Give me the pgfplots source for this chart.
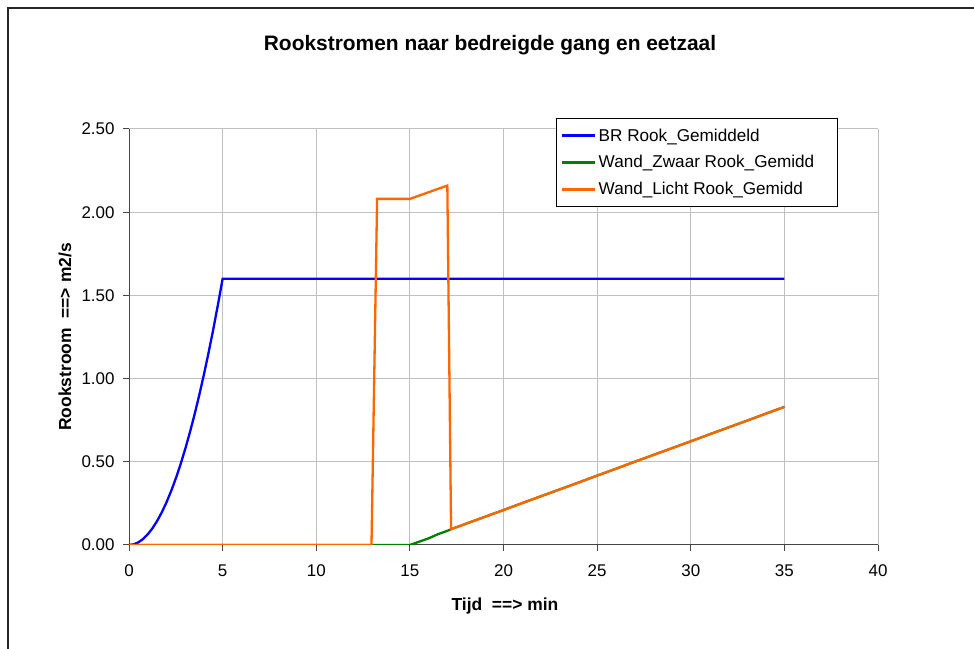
\documentclass[border=0pt]{standalone}
\usepackage{fontspec}
\setmainfont{Liberation Sans}
\usepackage{pgfplots}
\pgfplotsset{compat=1.18}
\definecolor{xlblue}{RGB}{0,0,255}
\definecolor{xlgreen}{RGB}{0,128,0}
\definecolor{xlorange}{RGB}{255,102,0}
\definecolor{gridgray}{RGB}{192,192,192}
\definecolor{axgray}{RGB}{70,70,70}
\begin{document}
\begin{tikzpicture}[x=1bp,y=1bp]
\useasboundingbox (0,0) rectangle (974,649);
\draw[line width=1.6bp, black!85] (8,-10) -- (8,641) -- (990,641);
\begin{axis}[
  at={(129bp,104bp)}, anchor=south west,
  scale only axis, width=749bp, height=416bp,
  xmin=0, xmax=40, ymin=0, ymax=2.5,
  xtick={0,5,...,40}, ytick={0,0.5,1,1.5,2,2.5},
  /pgf/number format/assume math mode=true,
  axis lines=left,
  axis line style={-, draw=axgray, line width=1bp},
  tick align=outside, major tick length=6bp,
  tick style={axgray, line width=1bp},
  grid=major, grid style={gridgray, line width=1bp},
  ticklabel style={font=\fontsize{17}{20}\selectfont},
  xticklabel style={yshift=-10bp},
  yticklabel style={xshift=-5bp, /pgf/number format/fixed, /pgf/number format/fixed zerofill, /pgf/number format/precision=2},
  title={Rookstromen naar bedreigde gang en eetzaal},
  title style={at={(0.482,1.209)}, anchor=center, yshift=-9bp, font=\bfseries\fontsize{21}{25}\selectfont},
  xlabel={Tijd\ \ ==> min},
  xlabel style={at={(0.502,-0.144)}, anchor=center, yshift=-1bp, font=\bfseries\fontsize{17.5}{21}\selectfont},
  ylabel={Rookstroom\ \ ==> m2/s},
  ylabel style={at={(-0.0854,0.5)}, anchor=center, yshift=0bp, rotate=0, font=\bfseries\fontsize{17.5}{21}\selectfont},
  legend cell align=left,
  legend image code/.code={\draw[#1] (0bp,0bp) -- (33bp,0bp);},
  legend style={at={(0.570,1.026)}, anchor=north west, draw=black, line width=1bp,
    fill=white, font=\fontsize{17.2}{20}\selectfont, inner xsep=4bp, inner ysep=8bp,
    row sep=9bp, nodes={inner xsep=3bp}},
]
\addplot[xlblue, line width=2.3bp] coordinates {
(0,0) (0.25,0.004) (0.5,0.016) (0.75,0.036) (1,0.064) (1.25,0.1) (1.5,0.144)
(1.75,0.196) (2,0.256) (2.25,0.324) (2.5,0.4) (2.75,0.484) (3,0.576) (3.25,0.676)
(3.5,0.784) (3.75,0.9) (4,1.024) (4.25,1.156) (4.5,1.296) (4.75,1.444) (5,1.6)
(35,1.6)};
\addlegendentry{BR Rook\_Gemiddeld}
\addplot[xlgreen, line width=2.3bp] coordinates {
(0,0) (15,0) (15.5,0.02) (16,0.04) (16.5,0.065) (17,0.085) (17.2,0.095)
(18,0.128) (19,0.169) (20,0.21) (21,0.252) (22,0.293) (23,0.334) (24,0.375)
(25,0.417) (26,0.458) (27,0.5) (28,0.541) (29,0.582) (30,0.623) (31,0.665)
(32,0.706) (33,0.747) (34,0.789) (35,0.83)};
\addlegendentry{Wand\_Zwaar Rook\_Gemidd\hspace*{16bp}}
\addplot[xlorange, line width=2.3bp] coordinates {
(0,0) (12.95,0) (13.25,2.08) (15,2.08) (15.5,2.10) (16,2.12) (16.5,2.14) (17,2.16)
(17.2,0.095)
(18,0.128) (19,0.169) (20,0.21) (21,0.252) (22,0.293) (23,0.334) (24,0.375)
(25,0.417) (26,0.458) (27,0.5) (28,0.541) (29,0.582) (30,0.623) (31,0.665)
(32,0.706) (33,0.747) (34,0.789) (35,0.83)};
\addlegendentry{Wand\_Licht Rook\_Gemidd}
\end{axis}
\end{tikzpicture}
\end{document}
